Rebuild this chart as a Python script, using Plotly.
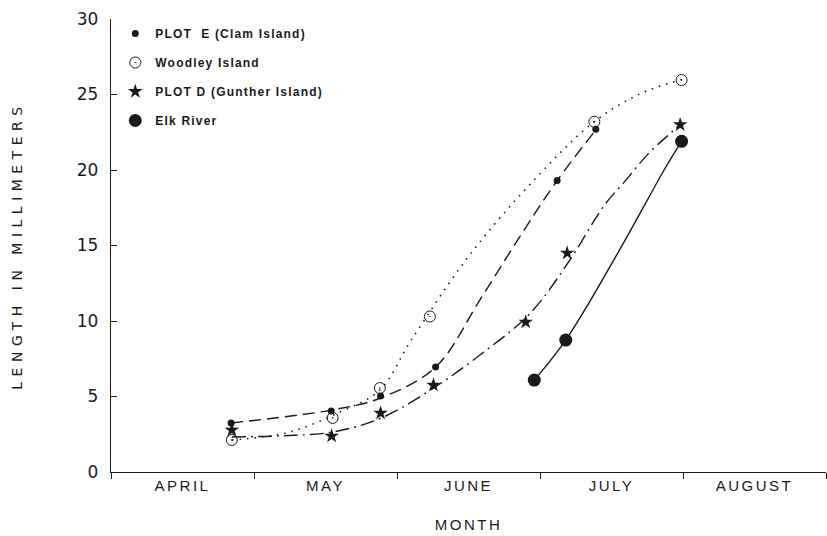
import plotly.graph_objects as go

# ---- tick labels / categories ----
months = ["APRIL", "MAY", "JUNE", "JULY", "AUGUST"]
month_centers = [0.5, 1.5, 2.5, 3.5, 4.5]
month_bounds = [0, 1, 2, 3, 4, 5]
y_ticks = [0, 5, 10, 15, 20, 25, 30]

# ---- observed points (x in months after 1 April, y in mm) ----
plot_e_x = [0.84, 1.54, 1.885, 2.27, 3.12, 3.39]
plot_e_y = [3.25, 4.04, 5.03, 6.95, 19.3, 22.7]
woodley_x = [0.845, 1.55, 1.88, 2.23, 3.38, 3.99]
woodley_y = [2.12, 3.58, 5.56, 10.3, 23.2, 25.96]
plot_d_x = [0.845, 1.543, 1.885, 2.255, 2.90, 3.19, 3.98]
plot_d_y = [2.78, 2.38, 3.9, 5.76, 9.93, 14.5, 23.0]
elk_x = [2.96, 3.18, 3.99]
elk_y = [6.09, 8.74, 21.9]

# ---- hand-drawn growth curves ----
plot_e_curve_x = [0.84, 1.54, 1.885, 2.27, 2.58, 2.86, 3.12, 3.39]
plot_e_curve_y = [3.25, 4.1, 4.9, 6.95, 11.4, 15.6, 19.3, 22.65]
woodley_curve_x = [0.845, 1.25, 1.60, 1.88, 2.10, 2.51, 2.975, 3.38, 3.69, 3.99]
woodley_curve_y = [2.12, 2.65, 3.97, 5.43, 8.74, 14.4, 19.5, 23.2, 25.0, 26.0]
plot_d_curve_x = [0.845, 1.2, 1.55, 1.89, 2.255, 2.58, 2.93, 3.22, 3.35, 3.46, 3.58, 3.76, 3.92, 3.98]
plot_d_curve_y = [2.32, 2.4, 2.65, 3.58, 5.56, 7.75, 10.5, 14.2, 16.2, 17.8, 19.1, 21.1, 22.5, 23.0]
elk_curve_x = [2.93, 3.18, 3.55, 3.88, 3.99]
elk_curve_y = [5.76, 8.74, 14.6, 20.2, 21.9]

INK = "#1a1a1a"
fig = go.Figure()

curves = [
    (plot_e_curve_x, plot_e_curve_y, "12px,6px", 1.4),
    (woodley_curve_x, woodley_curve_y, "1.5px,6px", 1.6),
    (plot_d_curve_x, plot_d_curve_y, "14px,5px,2px,5px", 1.4),
    (elk_curve_x, elk_curve_y, "solid", 1.4),
]
for cx, cy, dash, w in curves:
    fig.add_trace(go.Scatter(x=cx, y=cy, mode="lines", showlegend=False,
                             hoverinfo="skip",
                             line=dict(color=INK, width=w, dash=dash,
                                       shape="spline", smoothing=1.0)))

series = [
    ("PLOT  E (Clam Island)", plot_e_x, plot_e_y, "circle", 7, "g1"),
    ("Woodley Island", woodley_x, woodley_y, "circle-open-dot", 11, "g2"),
    ("PLOT D (Gunther Island)", plot_d_x, plot_d_y, "star", 11, "g3"),
    ("Elk River", elk_x, elk_y, "circle", 13, "g4"),
]
for name, xs, ys, sym, size, grp in series:
    fig.add_trace(go.Scatter(
        x=xs, y=ys, mode="markers",
        name='<span style="letter-spacing:1.2px">%s</span>' % name,
        legendgroup=grp,
        marker=dict(symbol=sym, size=size, color=INK,
                    line=dict(color=INK, width=1 if "open" in sym else 0)),
    ))

fig.update_layout(
    width=827, height=536,
    margin=dict(l=111, r=1, t=19, b=64),
    paper_bgcolor="white", plot_bgcolor="white",
    font=dict(family="DejaVu Sans", color=INK),
    showlegend=True,
    legend=dict(x=0.006, y=1.0, xanchor="left", yanchor="top",
                bgcolor="rgba(0,0,0,0)", tracegroupgap=10,
                font=dict(family="Liberation Sans", size=12, color=INK, weight="bold")),
    xaxis=dict(
        range=[0, 5], showgrid=False, zeroline=False,
        showline=True, linecolor=INK, linewidth=1.3,
        tickmode="array", tickvals=month_centers,
        ticktext=['<span style="letter-spacing:2.5px">%s</span>' % m for m in months],
        ticks="", tickfont=dict(size=15, family="Liberation Sans", color=INK),
        minor=dict(tickmode="array", tickvals=month_bounds, ticks="outside",
                   ticklen=6, tickcolor=INK, tickwidth=1.2, showgrid=False),
        title=dict(text='<span style="letter-spacing:2.5px">MONTH</span>',
                   font=dict(size=15, family="Liberation Sans", color=INK), standoff=26),
    ),
    yaxis=dict(
        range=[0, 30], showgrid=False, zeroline=False,
        showline=True, linecolor=INK, linewidth=1.3,
        tickmode="array", tickvals=y_ticks, ticks="inside", ticklen=6,
        tickcolor=INK, tickwidth=1,
        tickfont=dict(size=17, family="DejaVu Sans", color=INK),
        ticklabelstandoff=8,
        title=dict(text='<span style="letter-spacing:5.5px">LENGTH IN MILLIMETERS</span>',
                   font=dict(size=14, family="DejaVu Sans", color=INK), standoff=50),
    ),
)

fig.write_html("out.html")
